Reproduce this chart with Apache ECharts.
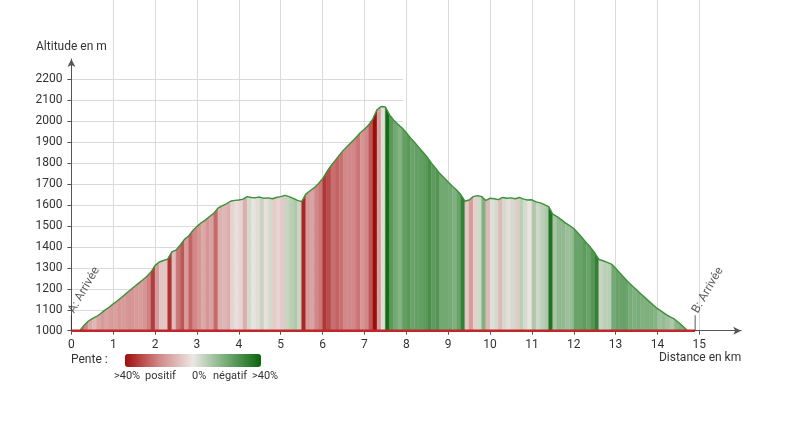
<!DOCTYPE html>
<html><head><meta charset="utf-8">
<script src="https://cdn.jsdelivr.net/npm/echarts@6/dist/echarts.min.js"></script>
<style>html,body{margin:0;padding:0;background:#fff}#c{width:799px;height:434px}</style>
</head><body><div id="c"></div>
<script>
// ---- data ----
const distanceKm = [
  0.2,0.3,0.4,0.5,0.6,0.7,0.8,0.9,1.0,1.1,1.2,1.3,1.4,1.5,1.6,1.7,1.8,1.9,2.0,2.1,
  2.2,2.3,2.4,2.5,2.6,2.7,2.8,2.9,3.0,3.1,3.2,3.3,3.4,3.5,3.6,3.7,3.8,3.9,4.0,4.1,
  4.2,4.3,4.4,4.5,4.6,4.7,4.8,4.9,5.0,5.1,5.2,5.3,5.4,5.5,5.6,5.7,5.8,5.9,6.0,6.1,
  6.2,6.3,6.4,6.5,6.6,6.7,6.8,6.9,7.0,7.1,7.2,7.3,7.4,7.5,7.6,7.7,7.8,7.9,8.0,8.1,
  8.2,8.3,8.4,8.5,8.6,8.7,8.8,8.9,9.0,9.1,9.2,9.3,9.4,9.5,9.6,9.7,9.8,9.9,10.0,10.1,
  10.2,10.3,10.4,10.5,10.6,10.7,10.8,10.9,11.0,11.1,11.2,11.3,11.4,11.5,11.6,11.7,11.8,11.9,12.0,12.1,
  12.2,12.3,12.4,12.5,12.6,12.7,12.8,12.9,13.0,13.1,13.2,13.3,13.4,13.5,13.6,13.7,13.8,13.9,14.0,14.1,
  14.2,14.3,14.4,14.5,14.6,14.7
];
const altitudeM = [
  1000,1025,1045,1058,1068,1082,1098,1112,1128,1143,1160,1176,1193,1210,1226,1242,1259,1280,1312,1328,
  1335,1342,1376,1385,1408,1436,1452,1478,1498,1515,1528,1545,1560,1585,1596,1606,1618,1622,1624,1628,
  1640,1636,1635,1638,1632,1634,1630,1636,1640,1646,1640,1632,1622,1616,1652,1668,1682,1702,1725,1758,
  1788,1812,1838,1862,1882,1902,1922,1945,1962,1982,2010,2055,2070,2068,2030,2005,1985,1968,1945,1920,
  1898,1875,1852,1828,1800,1776,1750,1730,1710,1690,1672,1650,1618,1624,1640,1645,1640,1622,1632,1630,
  1626,1636,1632,1634,1630,1636,1628,1624,1625,1615,1610,1602,1592,1556,1545,1530,1515,1502,1488,1466,
  1444,1420,1398,1372,1340,1334,1326,1318,1298,1276,1254,1232,1213,1195,1176,1158,1140,1122,1105,1092,
  1078,1066,1056,1040,1022,1003
];
const markers = [
  { name: 'A: Arrivée', km: 0 },
  { name: 'B: Arrivée', km: 14.9 }
];
const xTicks = [0,1,2,3,4,5,6,7,8,9,10,11,12,13,14,15];
const yTicks = [1000,1100,1200,1300,1400,1500,1600,1700,1800,1900,2000,2100,2200];
const slopeLegend = ['>40%', 'positif', '0%', 'négatif', '>40%'];
const slopeLimit = 40;

// ---- derived ----
const base = yTicks[0];
const segments = [];
for (let i = 0; i < distanceKm.length - 1; i++) {
  const dx = (distanceKm[i + 1] - distanceKm[i]) * 1000;
  let s = (altitudeM[i + 1] - altitudeM[i]) / dx * 100;
  s = Math.max(-slopeLimit, Math.min(slopeLimit, s));
  segments.push([distanceKm[i], distanceKm[i + 1], altitudeM[i], altitudeM[i + 1], s]);
}
const profile = distanceKm.map((d, i) => [d, altitudeM[i]]);
const baseline = [[markers[0].km, base], [markers[markers.length - 1].km, base]];

const FONT = 'Roboto, "Noto Sans", sans-serif';
const GRID_L = 71.4, GRID_R = 57.8, GRID_B = 103.3, GRID_T = 59;
const yMaxAxis = 2297, xMaxAxis = 16;
const legendLabelX = [114, 145, 192, 213, 252];

const chart = echarts.init(document.getElementById('c'), null, { renderer: 'canvas' });
chart.setOption({
  animation: false,
  backgroundColor: '#fff',
  textStyle: { fontFamily: FONT },
  grid: [
    { left: GRID_L, right: GRID_R, top: GRID_T, bottom: GRID_B },
    { left: GRID_L, right: GRID_R, top: 0, bottom: GRID_B },
    { left: GRID_L, width: 331.6, top: GRID_T, bottom: GRID_B }
  ],
  xAxis: [
    {
      gridIndex: 0, type: 'value', min: 0, max: xMaxAxis, interval: 1,
      axisLine: { show: true, symbol: ['none', 'arrow'], symbolSize: [6, 8], lineStyle: { color: '#555', width: 1 } },
      axisTick: { show: true, length: 4, lineStyle: { color: '#555' } },
      axisLabel: {
        margin: 8, color: '#333', fontSize: 12, fontFamily: FONT,
        showMaxLabel: false,
        formatter: v => xTicks.indexOf(v) >= 0 ? String(v) : ''
      },
      splitLine: { show: false },
      name: 'Distance en km', nameLocation: 'end', nameGap: 0,
      nameTextStyle: { color: '#333', fontSize: 12, fontFamily: FONT, align: 'right', verticalAlign: 'top', padding: [21, 0, 0, 0] }
    },
    {
      gridIndex: 1, type: 'value', min: 0, max: xMaxAxis, interval: 1,
      axisLine: { show: false }, axisTick: { show: false }, axisLabel: { show: false },
      splitLine: { show: true, showMinLine: false, showMaxLine: false, lineStyle: { color: '#dadada', width: 1 } }
    },
    {
      gridIndex: 2, type: 'value', min: 0, max: 1, show: false
    }
  ],
  yAxis: [
    {
      gridIndex: 0, type: 'value', min: base, max: yMaxAxis, interval: 100,
      axisLine: { show: true, symbol: ['none', 'arrow'], symbolSize: [6, 8], lineStyle: { color: '#555', width: 1 } },
      axisTick: { show: true, length: 4, lineStyle: { color: '#555' } },
      axisLabel: {
        margin: 9, color: '#333', fontSize: 12, fontFamily: FONT,
        showMaxLabel: false,
        formatter: v => yTicks.indexOf(v) >= 0 ? String(v) : ''
      },
      splitLine: { show: false },
      name: 'Altitude en m', nameLocation: 'end', nameGap: 6,
      nameTextStyle: { color: '#333', fontSize: 12, fontFamily: FONT, align: 'center' }
    },
    { gridIndex: 1, type: 'value', min: 0, max: 1, show: false },
    {
      gridIndex: 2, type: 'value', min: base, max: yMaxAxis, interval: 100,
      axisLine: { show: false }, axisTick: { show: false }, axisLabel: { show: false },
      splitLine: { show: true, showMinLine: false, showMaxLine: false, lineStyle: { color: '#dadada', width: 1 } }
    }
  ],
  visualMap: {
    type: 'continuous', seriesIndex: 0, dimension: 4,
    min: -slopeLimit, max: slopeLimit, inverse: true,
    orient: 'horizontal', left: 125, top: 354, itemWidth: 13, itemHeight: 136,
    padding: 0, calculable: false, realtime: false, hoverLink: false,
    text: null, showLabel: false,
    inRange: { color: ['#0c640c', '#73aa73', '#ebe7e4', '#d28888', '#a00d0d'] }
  },
  graphic: [
    { type: 'text', left: 71, top: 354, style: { text: 'Pente :', fill: '#333', font: '12px ' + FONT } }
  ].concat(slopeLegend.map((t, i) => ({
    type: 'text', x: legendLabelX[i], y: 376,
    style: { text: t, fill: '#333', font: '11px ' + FONT, align: 'left', verticalAlign: 'middle' }
  }))),
  series: [
    {
      type: 'custom', xAxisIndex: 0, yAxisIndex: 0,
      dimensions: ['x0', 'x1', 'y0', 'y1', 'slope'],
      encode: { x: [0, 1], y: [2, 3] },
      data: segments,
      renderItem: function (params, api) {
        const x0 = api.value(0), x1 = api.value(1);
        const pts = [
          api.coord([x0, base]), api.coord([x0, api.value(2)]),
          api.coord([x1, api.value(3)]), api.coord([x1, base])
        ];
        const c = api.visual('color');
        return { type: 'polygon', shape: { points: pts }, style: { fill: c, stroke: c, lineWidth: 0.4 } };
      },
      z: 2
    },
    {
      type: 'line', xAxisIndex: 0, yAxisIndex: 0, data: profile,
      showSymbol: false, symbol: 'none',
      lineStyle: { color: '#3a923a', width: 1.4 }, z: 3
    },
    {
      type: 'line', xAxisIndex: 0, yAxisIndex: 0, data: baseline,
      showSymbol: false, symbol: 'none',
      lineStyle: { color: '#c0262a', width: 2.5 }, z: 4
    },
    {
      type: 'scatter', xAxisIndex: 0, yAxisIndex: 0,
      data: markers.map(m => ({ name: m.name, value: [m.km, base] })),
      symbol: 'rect', symbolSize: [1, 15], symbolOffset: [0, -8],
      itemStyle: { color: '#333' },
      label: {
        show: true, formatter: p => p.name, position: 'top', distance: 3,
        rotate: 60, align: 'left', verticalAlign: 'middle',
        color: '#333', fontSize: 12, fontFamily: FONT
      },
      z: 5
    }
  ]
});
</script></body></html>
